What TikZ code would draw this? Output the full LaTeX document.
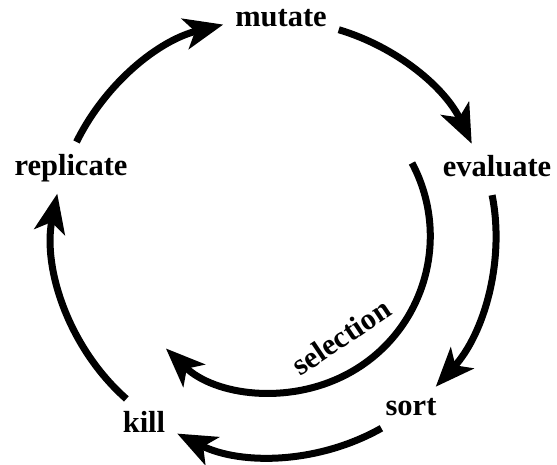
\documentclass[tikz,border=0pt]{standalone}
\usepackage{fontspec}
\setmainfont{Liberation Serif}
\usetikzlibrary{arrows.meta}

\tikzset{
  lbl/.style={font=\bfseries\fontsize{30.5}{36}\selectfont, inner sep=12pt, outer sep=0pt},
  cyc/.style={line width=7pt, -{Stealth[length=39pt,width=31pt,inset=10pt]}, looseness=0.9},
}

\begin{document}
\begin{tikzpicture}[x=1pt,y=1pt]
  \useasboundingbox (0,0) rectangle (557,465);

  % stages of the loop
  \node[lbl] (mutate)    at (281,446.5) {mutate};
  \node[lbl] (evaluate)  at (497,298.5) {evaluate};
  \node[lbl] (sort)      at (411,57.5)  {sort};
  \node[lbl] (kill)      at (144,43.5)  {kill};
  \node[lbl] (replicate) at (71,297.2)  {replicate};

  % outer loop
  \draw[cyc] (replicate.78) to[bend left=25] (mutate.186);
  \draw[cyc] (mutate.-11)   to[bend left=24] (evaluate.138);
  \draw[cyc,shorten <=6pt] (evaluate.-105) to[bend left=27] (sort.40);
  \draw[cyc] (sort.215)     to[bend left=28] (kill.-20);
  \draw[cyc] (kill.128)     to[bend left=30] (replicate.-118);

  % inner shortcut
  \coordinate (selstart) at (412,302);
  \draw[cyc] (selstart) arc[start angle=28, end angle=-134, radius=156];
  \node[lbl,rotate=34] (selection) at (341,128) {selection};
\end{tikzpicture}
\end{document}
